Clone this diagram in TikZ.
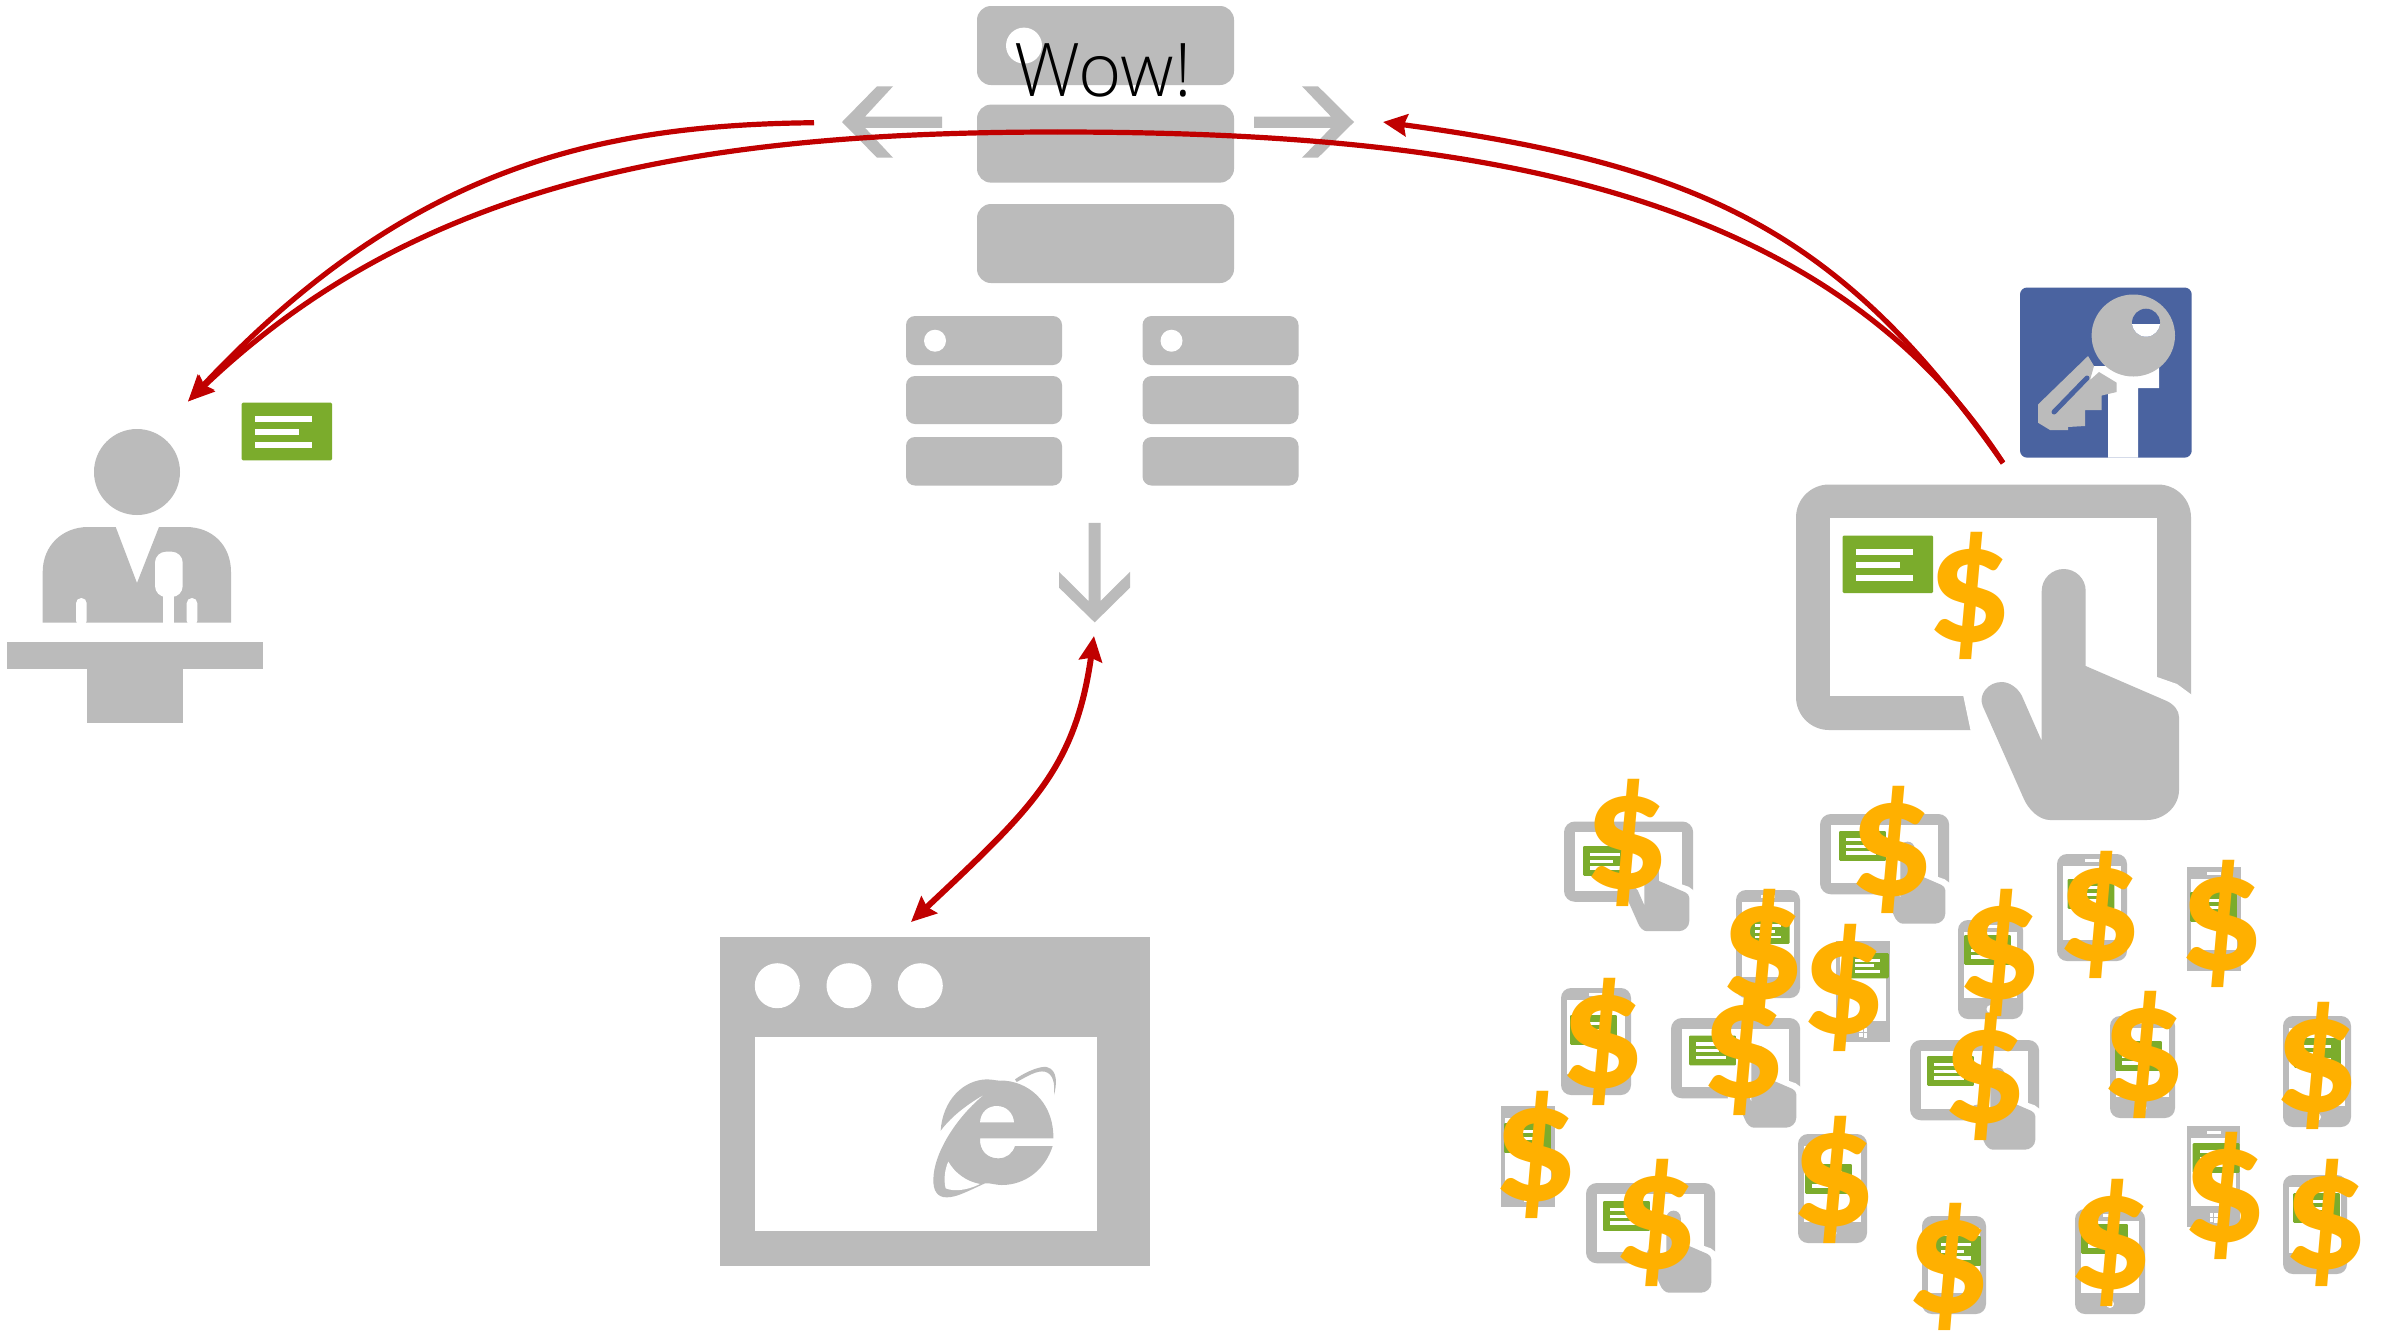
\documentclass[tikz,border=0pt]{standalone}
\usepackage{fontspec}
\usetikzlibrary{arrows.meta}
\newfontfamily\dolfont{Carlito}
\newfontfamily\wowfont{Open Sans Light}
\definecolor{icongray}{HTML}{BBBBBB}
\definecolor{cardgreen}{HTML}{7BAC2C}
\definecolor{dollarorange}{HTML}{FFB000}
\definecolor{keyblue}{HTML}{4A63A0}
\definecolor{linkred}{HTML}{C00000}
\tikzset{
  gray shape/.style={fill=icongray,draw=none},
  white shape/.style={fill=white,draw=none},
  dollar/.style={inner sep=0pt,outer sep=0pt,text=dollarorange,font=\fontsize{85}{85}\selectfont\dolfont\bfseries},
  link/.style={draw=linkred,line width=2.6pt},
  link tip/.style={Stealth[length=13pt,width=12pt,inset=2pt,color=linkred]},
}
% card: top-left x, y, scale
\newcommand{\cardicon}[3]{%
  \begin{scope}[shift={(#1,#2)},scale=#3]
    \fill[cardgreen,rounded corners=.6pt] (0,0) rectangle (90.3,57.6);
    \fill[white] (13.3,13) rectangle (70.6,19.6);
    \fill[white] (13.3,26) rectangle (57.6,32.3);
    \fill[white] (13.3,39) rectangle (70.6,45.3);
  \end{scope}}
% tablet with hand: x, y, scale, corner radius
\newcommand{\tableticon}[4]{%
  \begin{scope}[shift={(#1,#2)},scale=#3]
    \fill[gray shape,rounded corners=#4] (0,0) rectangle (395,245.5);
    \fill[white shape] (34,33.5) rectangle (361,211);
    \fill[white shape] (167,210) -- (175,248) -- (398,248) -- (398,212) -- (381,199.5) -- (361,192.5) -- (304,175) -- cycle;
    \fill[gray shape] (245.7,106.5) .. controls (245.7,94) and (256,84.5) .. (267.7,84.5)
      .. controls (279.5,84.5) and (289.7,94) .. (289.7,106.5) -- (289.7,181.5) -- (370.7,216.5)
      .. controls (378,220) and (383,226) .. (383,232.5) -- (383,305.5)
      .. controls (383,322) and (368,335.5) .. (350.7,335.5) -- (254,335.5)
      .. controls (243,335.5) and (232,325) .. (227,312.5) -- (186.7,221.5)
      .. controls (182,210) and (192,197.5) .. (205.7,197.5)
      .. controls (214,197.5) and (222,204) .. (225.7,211) -- (245.7,256.5) -- cycle;
  \end{scope}}
% rounded phone: x1,y1,x2,y2
\newcommand{\roundphone}[4]{%
  \fill[gray shape,rounded corners=5pt] (#1,#2) rectangle (#3,#4);
  \fill[white shape] ({#1+6},{#2+12}) rectangle ({#3-6},{#4-21});
  \fill[white shape] ({(#1+#3)/2-7},{#2+5}) rectangle ({(#1+#3)/2+7},{#2+7.5});
  \fill[white shape] ({(#1+#3)/2},{#4-10}) circle[radius=4];}
% windows phone: x1,y1,x2,y2
\newcommand{\winphone}[4]{%
  \fill[gray shape] (#1,#2) rectangle (#3,#4);
  \fill[white shape] ({#1+4},{#2+12}) rectangle ({#3-4},{#4-21});
  \fill[white shape] ({(#1+#3)/2-7},{#2+5}) rectangle ({(#1+#3)/2+7},{#2+7.5});
  \fill[white shape] ({(#1+#3)/2-4},{#4-14}) rectangle ({(#1+#3)/2-.5},{#4-10});
  \fill[white shape] ({(#1+#3)/2+.5},{#4-14.5}) rectangle ({(#1+#3)/2+4},{#4-10});
  \fill[white shape] ({(#1+#3)/2-4},{#4-9}) rectangle ({(#1+#3)/2-.5},{#4-5});
  \fill[white shape] ({(#1+#3)/2+.5},{#4-9}) rectangle ({(#1+#3)/2+4},{#4-4.5});}
\begin{document}
\begin{tikzpicture}[x=.5pt,y=-.5pt]
\useasboundingbox (0,0) rectangle (2392,1334);
\fill[white] (0,0) rectangle (2392,1334);

% ---- central server
\fill[gray shape,rounded corners=7pt] (977,6) rectangle (1234,85);
\fill[gray shape,rounded corners=7pt] (977,104.6) rectangle (1234,182.6);
\fill[gray shape,rounded corners=7pt] (977,204) rectangle (1234,283);
\fill[white shape] (1024,45.6) circle[radius=18];
\foreach \sx in {906,1142.5}{
  \fill[gray shape,rounded corners=4.5pt] (\sx,316) rectangle ({\sx+156},365);
  \fill[gray shape,rounded corners=4.5pt] (\sx,376) rectangle ({\sx+156},424);
  \fill[gray shape,rounded corners=4.5pt] (\sx,437) rectangle ({\sx+156},485.5);
  \fill[white shape] ({\sx+29},340.7) circle[radius=11];
}
% gray arrows
\fill[gray shape] (842,122) -- (877,86.3) -- (893,86.3) -- (865,116.6) -- (942,116.6) -- (942,127.8) -- (865,127.8) -- (893,157.7) -- (877,157.7) -- cycle;
\fill[gray shape] (1354,122) -- (1318,86.3) -- (1302,86.3) -- (1331,116.6) -- (1254,116.6) -- (1254,127.8) -- (1331,127.8) -- (1302,157.7) -- (1318,157.7) -- cycle;
\fill[gray shape] (1094.7,622.4) -- (1059,587.6) -- (1059,571.8) -- (1088.5,601) -- (1088.5,522.8) -- (1100.5,522.8) -- (1100.5,601) -- (1130,571.8) -- (1130,587.6) -- cycle;

% ---- person at the desk
\fill[gray shape] (137,472) circle[radius=43];
\fill[gray shape] (42.7,622.7) -- (42.7,572) .. controls (42.7,545) and (63,527) .. (88,527) -- (115.7,527) -- (137,583) -- (159,527) -- (186,527) .. controls (212,527) and (231,545) .. (231,572) -- (231,622.7) -- cycle;
\fill[white shape,rounded corners=2.6pt] (76,598) rectangle (86.7,626);
\fill[white shape,rounded corners=2.6pt] (186.7,598) rectangle (197.3,626);
\fill[white shape,rounded corners=5.5pt] (155,551.7) rectangle (182.7,597);
\fill[white shape] (163,590) rectangle (174,626);
\fill[gray shape] (7.3,642.3) rectangle (263,669);
\fill[gray shape] (86.7,669) rectangle (182.7,723.3);
\cardicon{241.7}{402.7}{1}

% ---- browser
\fill[gray shape] (720,937.3) rectangle (1150,1266);
\fill[white shape] (755,1037.3) rectangle (1096.7,1230.7);
\foreach \cx in {777.3,849,920.3}{\fill[white shape] (\cx,985.7) circle[radius=22.5];}
\begin{scope}[shift={(700,920)},scale=1/3]
  \fill[gray shape] (722,632) .. controls (728,540) and (790,480) .. (860,478)
    .. controls (880,478) and (895,484) .. (915,482)
    .. controls (1000,490) and (1062,560) .. (1060,655) -- (840,655)
    .. controls (838,690) and (860,715) .. (895,715)
    .. controls (920,715) and (938,700) .. (945,678) -- (1058,678)
    .. controls (1035,750) and (975,795) .. (905,795)
    .. controls (885,795) and (870,788) .. (855,790)
    .. controls (800,815) and (770,832) .. (740,832)
    .. controls (710,832) and (700,810) .. (700,780)
    .. controls (700,700) and (770,590) .. (855,522)
    .. controls (790,560) and (750,595) .. cycle;
  \fill[white shape] (745,725) .. controls (765,760) and (800,785) .. (840,792)
    .. controls (800,812) and (760,815) .. (737,805)
    .. controls (730,780) and (735,745) .. cycle;
  \fill[white shape] (840,607) .. controls (842,575) and (865,558) .. (890,558)
    .. controls (920,558) and (940,580) .. (942,607) -- cycle;
  \fill[gray shape] (945,478) .. controls (985,450) and (1025,438) .. (1040,441)
    .. controls (1075,450) and (1070,495) .. (1062,525)
    .. controls (1065,490) and (1060,462) .. (1035,455)
    .. controls (1010,450) and (980,470) .. (950,486) -- cycle;
\end{scope}

% ---- key badge
\fill[keyblue,rounded corners=3.5pt] (2020,287.5) rectangle (2191.7,457.6);
\fill[white shape] (2108,457.6) -- (2108,388) -- (2090,388) -- (2090,366) -- (2108,366) -- (2108,330) -- (2159,324) -- (2159,388) -- (2138,388) -- (2138,457.6) -- cycle;
\fill[gray shape] (2133.3,335.5) ellipse[x radius=41.7,y radius=41];
\fill[gray shape] (2088,356) -- (2038,404.5) -- (2038,422.7) -- (2050,430) -- (2068,430) -- (2068,427) -- (2085,426) -- (2085,410) -- (2101.7,410) -- (2101.7,395.5) -- (2116.7,392) -- (2116.7,382.7) -- (2099,372) -- (2090,380) -- (2094,366) -- cycle;
\draw[keyblue,line width=2.5pt,line cap=round] (2087,378) -- (2054,412);
\fill[keyblue] (2146,322.7) circle[radius=14];
\begin{scope}
  \clip (2130,324.5) rectangle (2162,340);
  \fill[white shape] (2146,322.7) circle[radius=14];
\end{scope}

% ---- big tablet
\tableticon{1796}{484.5}{1}{16.5pt}
\cardicon{1842.7}{535.5}{1}

% ---- crowd of devices
\tableticon{1564}{821.5}{.327}{5.4pt}\cardicon{1583}{846}{.52}
\tableticon{1820}{814}{.327}{5.4pt}\cardicon{1839}{831}{.52}
\tableticon{1671}{1018}{.327}{5.4pt}\cardicon{1689}{1035.5}{.52}
\tableticon{1910}{1040}{.327}{5.4pt}\cardicon{1927}{1056}{.52}
\tableticon{1586}{1183}{.327}{5.4pt}\cardicon{1603}{1201}{.52}
\roundphone{1736}{890}{1800}{998}\cardicon{1749}{918}{.45}
\roundphone{1958}{920}{2023}{1019}\cardicon{1964}{935}{.52}
\winphone{1836}{941}{1890}{1042}\cardicon{1849}{953}{.44}
\roundphone{2057}{854}{2127}{961}\cardicon{2067.5}{879}{.52}
\winphone{2187}{867}{2241}{971}\cardicon{2190}{892}{.52}
\roundphone{1561}{988}{1631}{1095}\cardicon{1570}{1015}{.52}
\roundphone{2110}{1016}{2175}{1118}\cardicon{2115}{1041}{.52}
\roundphone{2283}{1016}{2351}{1127}\cardicon{2294}{1038}{.52}
\winphone{1501}{1106}{1554.5}{1207}\cardicon{1504}{1123}{.52}
\roundphone{1798}{1134}{1867}{1243}\cardicon{1805}{1164}{.52}
\roundphone{1922}{1216}{1986}{1314}\cardicon{1934}{1236}{.52}
\roundphone{2075}{1209}{2145}{1314}\cardicon{2081}{1224}{.52}
\winphone{2187}{1126}{2240}{1227}\cardicon{2192.6}{1143}{.52}
\roundphone{2283}{1175}{2347}{1274}\cardicon{2293}{1193}{.52}

% ---- dollars
\node[dollar] (dollar0) at (1970,595.5) {\$};
\node[dollar] (dollar1) at (1627,843) {\$};
\node[dollar] (dollar2) at (1892,850) {\$};
\node[dollar] (dollar3) at (1763,953) {\$};
\node[dollar] (dollar4) at (2000,953) {\$};
\node[dollar] (dollar5) at (1844,988) {\$};
\node[dollar] (dollar6) at (2100,915) {\$};
\node[dollar] (dollar7) at (2222,924) {\$};
\node[dollar] (dollar8) at (1603,1042) {\$};
\node[dollar] (dollar9) at (1744,1052) {\$};
\node[dollar] (dollar10) at (1985,1077) {\$};
\node[dollar] (dollar11) at (2144,1055) {\$};
\node[dollar] (dollar12) at (2316.5,1065.5) {\$};
\node[dollar] (dollar13) at (1536,1155) {\$};
\node[dollar] (dollar14) at (1834,1180) {\$};
\node[dollar] (dollar15) at (1656,1223) {\$};
\node[dollar] (dollar16) at (1949,1267) {\$};
\node[dollar] (dollar17) at (2111,1243) {\$};
\node[dollar] (dollar18) at (2225,1195.5) {\$};
\node[dollar] (dollar19) at (2326,1223) {\$};

% ---- connectors
\coordinate (tabletOut) at (2003,463);
\coordinate (peakB) at (1057,132);
\coordinate (personIn) at (188,401.5);
\coordinate (serverOutL) at (814,122.7);
\coordinate (serverInR) at (1383,122);
\coordinate (browserOut) at (911,922);
\coordinate (serverOutD) at (1094,636);
\draw[link,-{Stealth[length=13pt,width=11pt,inset=1.5pt]}] (serverOutL) .. controls (600,125) and (410,165) .. (personIn);
\draw[link] (tabletOut) .. controls (1820,180) and (1450,132) .. (peakB);
\draw[link,-{Stealth[length=13pt,width=11pt,inset=1.5pt]}] (peakB) .. controls (700,132) and (420,180) .. (personIn);
\draw[link,-{Stealth[length=12pt,width=11pt,inset=1.5pt]}] (tabletOut) .. controls (1840,230) and (1700,165) .. (serverInR);
\draw[link,line width=3pt,{Stealth[length=12.5pt,width=11.5pt,inset=1.5pt]}-{Stealth[length=12.5pt,width=11.5pt,inset=1.5pt]}] (serverOutD) .. controls (1075,770) and (1030,810) .. (browserOut);

% ---- title
\node[inner sep=0pt,anchor=base] (wow) at (1103,96) {\wowfont\fontsize{37}{37}\selectfont Wow!};
\end{tikzpicture}
\end{document}
